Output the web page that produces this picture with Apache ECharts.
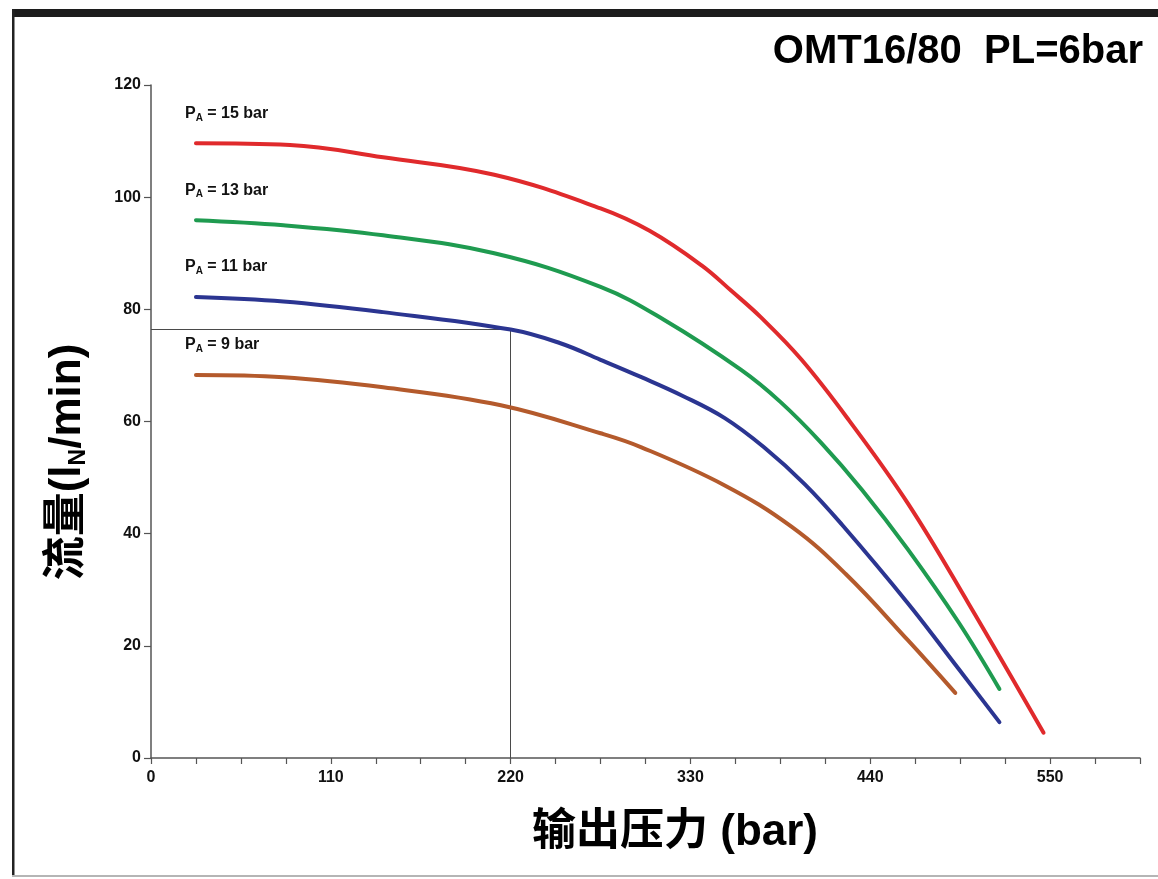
<!DOCTYPE html>
<html>
<head>
<meta charset="utf-8">
<title>OMT16/80 PL=6bar</title>
<script src="https://cdn.jsdelivr.net/npm/echarts@6/dist/echarts.min.js"></script>
<style>
  html, body { margin: 0; padding: 0; background: #ffffff; }
  #chart { width: 1158px; height: 879px; }
</style>
</head>
<body>
<div id="chart"></div>
<script>
// Output pressure (bar) vs. flow (lN/min) for each drive air pressure PA
const chartTitle = 'OMT16/80  PL=6bar';
const xAxisTitle = '输出压力 (bar)';
const yAxisTitle = '流量(l{s|N}/min)';

const seriesLabels = ['15 bar', '13 bar', '11 bar', '9 bar'];
const seriesColors = ['#e02a2c', '#1f9b50', '#2b3591', '#b45a2c'];

const pa15 = [[27.5, 109.6], [85, 109.3], [142, 107.1], [210, 104.0], [275, 98.0], [305, 94.0],
              [337, 87.8], [355, 83.3], [373, 78.6], [398, 71.0], [427, 60.2], [463, 45.4],
              [500, 27.6], [546, 4.5]];
const pa13 = [[27.5, 95.9], [81, 95.0], [142, 93.2], [210, 90.0], [275, 84.0], [314, 78.1],
              [361, 69.2], [385, 63.5], [410, 56.2], [435, 47.8], [463, 37.2], [494, 24.2],
              [519, 12.3]];
const pa11 = [[27.5, 82.2], [81, 81.4], [142, 79.5], [220, 76.4], [250, 74.0], [275, 71.0],
              [300, 67.9], [325, 64.6], [351, 60.6], [375, 55.4], [400, 48.8], [423, 41.5],
              [463, 27.6], [494, 15.9], [519, 6.4]];
const pa9  = [[27.5, 68.3], [81, 67.9], [142, 66.1], [214, 62.9], [275, 57.9], [300, 55.4],
              [351, 48.6], [392, 41.2], [425, 32.8], [463, 21.0], [492, 11.6]];
const seriesData = [pa15, pa13, pa11, pa9];

// reading guide: 220 bar on the PA = 11 bar curve
const crossPressure = 220;
const crossFlow = 76.4;

// axis scales
const xMin = 0, xMax = 605, xTickStep = 27.5, xLabelStep = 110;
const yMin = 0, yMax = 120, yTickStep = 20;

const latin = "'Liberation Sans', Arial, sans-serif";
const mixed = "'Liberation Sans', 'Noto Sans CJK SC', sans-serif";
const axisColor = '#555555';

const chart = echarts.init(document.getElementById('chart'), null, { renderer: 'canvas' });

const series = seriesData.map((data, i) => {
  const s = {
    type: 'line',
    data: data,
    showSymbol: false,
    smooth: 0.4,
    z: 3,
    lineStyle: { color: seriesColors[i], width: 4, cap: 'round' },
    markPoint: {
      symbol: 'circle',
      symbolSize: 0,
      silent: true,
      data: [{ coord: data[0] }],
      label: {
        show: true,
        position: 'inside',
        align: 'left',
        verticalAlign: 'middle',
        offset: [-11, -30],
        formatter: 'P{s|A} = ' + seriesLabels[i],
        color: '#111',
        fontFamily: latin,
        fontWeight: 'bold',
        fontSize: 16,
        rich: {
          s: { fontSize: 10, fontWeight: 'bold', fontFamily: latin, color: '#111', padding: [9, 0, 0, 0] }
        }
      }
    }
  };
  if (i === 2) {
    s.markLine = {
      silent: true,
      symbol: 'none',
      z: 2,
      label: { show: false },
      lineStyle: { color: '#4a4a4a', width: 1, type: 'solid' },
      data: [
        [{ coord: [xMin, crossFlow] }, { coord: [crossPressure, crossFlow] }],
        [{ coord: [crossPressure, crossFlow] }, { coord: [crossPressure, yMin] }]
      ]
    };
  }
  return s;
});

const option = {
  backgroundColor: '#ffffff',
  animation: false,
  grid: { left: 151, right: 18, top: 85, bottom: 121, containLabel: false },
  xAxis: {
    type: 'value',
    min: xMin,
    max: xMax,
    interval: xTickStep,
    axisLine: { show: true, onZero: false, lineStyle: { color: axisColor, width: 1.5 } },
    axisTick: { show: true, length: 6, lineStyle: { color: axisColor, width: 1.2 } },
    splitLine: { show: false },
    axisLabel: {
      margin: 12,
      color: '#111',
      fontFamily: latin,
      fontWeight: 'bold',
      fontSize: 16,
      formatter: function (v) {
        const k = v / xLabelStep;
        return Math.abs(k - Math.round(k)) < 1e-6 ? String(Math.round(v)) : '';
      }
    }
  },
  yAxis: {
    type: 'value',
    min: yMin,
    max: yMax,
    interval: yTickStep,
    axisLine: { show: true, onZero: false, lineStyle: { color: axisColor, width: 1.5 } },
    axisTick: { show: true, length: 7, lineStyle: { color: axisColor, width: 1.2 } },
    splitLine: { show: false },
    axisLabel: {
      margin: 10,
      color: '#111',
      fontFamily: latin,
      fontWeight: 'bold',
      fontSize: 16
    }
  },
  series: series,
  graphic: [
    // frame
    { type: 'rect', silent: true, shape: { x: 12, y: 9, width: 1146, height: 8 }, style: { fill: '#1c1c1c' } },
    { type: 'rect', silent: true, shape: { x: 12, y: 9, width: 2.5, height: 868 }, style: { fill: '#222222' } },
    { type: 'rect', silent: true, shape: { x: 12, y: 875, width: 1146, height: 2 }, style: { fill: '#b5b5b5' } },
    // title
    {
      type: 'text', silent: true, x: 1143, y: 52,
      style: {
        text: chartTitle, fill: '#000',
        fontFamily: latin, fontWeight: 'bold', fontSize: 40,
        align: 'right', verticalAlign: 'middle'
      }
    },
    // x axis name
    {
      type: 'text', silent: true, x: 675, y: 833,
      style: {
        text: xAxisTitle, fill: '#000',
        fontFamily: mixed, fontWeight: 'bold', fontSize: 44,
        align: 'center', verticalAlign: 'middle'
      }
    },
    // y axis name
    {
      type: 'text', silent: true, x: 68, y: 462, rotation: Math.PI / 2,
      style: {
        text: yAxisTitle, fill: '#000',
        fontFamily: mixed, fontWeight: 'bold', fontSize: 44,
        align: 'center', verticalAlign: 'middle',
        rich: {
          s: { fontFamily: latin, fontWeight: 'bold', fontSize: 23, fill: '#000', padding: [21, 0, 0, 0] }
        }
      }
    }
  ]
};

chart.setOption(option);
</script>
</body>
</html>
